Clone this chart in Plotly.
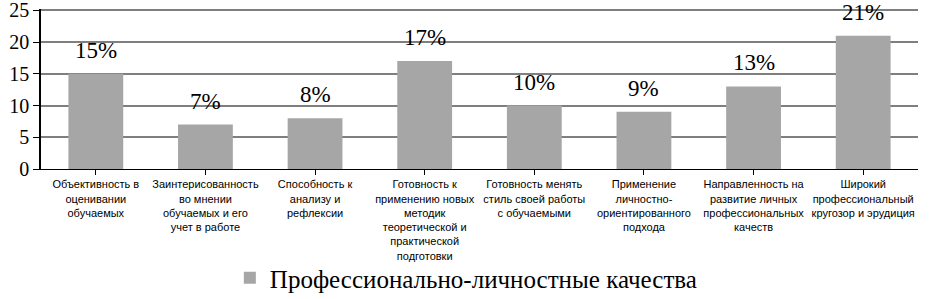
import plotly.graph_objects as go

categories = [
    "Объективность в<br>оценивании<br>обучаемых",
    "Заинтерисованность<br>во мнении<br>обучаемых и его<br>учет в работе",
    "Способность к<br>анализу и<br>рефлексии",
    "Готовность к<br>применению новых<br>методик<br>теоретической и<br>практической<br>подготовки",
    "Готовность менять<br>стиль своей работы<br>с обучаемыми",
    "Применение<br>личностно-<br>ориентированного<br>подхода",
    "Направленность на<br>развитие личных<br>профессиональных<br>качеств",
    "Широкий<br>профессиональный<br>кругозор и эрудиция",
]
values = [15, 7, 8, 17, 10, 9, 13, 21]
value_labels = ["15%", "7%", "8%", "17%", "10%", "9%", "13%", "21%"]
series_name = "Профессионально-личностные качества"
y_ticks = [0, 5, 10, 15, 20, 25]

SERIF = "'Liberation Serif', 'Times New Roman', 'DejaVu Serif', serif"
SANS = "'Liberation Sans', Arial, sans-serif"

fig = go.Figure()
fig.add_trace(go.Bar(
    x=list(range(len(categories))),
    y=values,
    name=series_name,
    marker=dict(color="#A6A6A6", line=dict(width=0)),
    showlegend=True,
))

for i, (v, lab) in enumerate(zip(values, value_labels)):
    fig.add_annotation(
        x=i, y=v, text=lab, showarrow=False,
        yanchor="bottom", yshift=9,
        font=dict(family=SERIF, size=23, color="#000000"),
    )

fig.update_layout(
    width=929, height=299,
    margin=dict(l=41, r=11, t=9, b=130, autoexpand=False),
    paper_bgcolor="white", plot_bgcolor="white",
    bargap=0.5,
    showlegend=True,
    legend=dict(
        orientation="h", x=0.485, xanchor="center",
        yref="container", y=0.07, yanchor="middle",
        bgcolor="rgba(0,0,0,0)",
        font=dict(family=SERIF, size=25, color="#000000"),
        itemwidth=30,
    ),
    xaxis=dict(
        tickmode="array",
        tickvals=list(range(len(categories))),
        ticktext=categories,
        range=[-0.5, len(categories) - 0.5],
        tickson="boundaries",
        ticks="outside", ticklen=5, tickcolor="#000000",
        showline=True, linecolor="#000000", linewidth=1,
        showgrid=False,
        automargin=False,
        tickfont=dict(family=SANS, size=11, color="#000000"),
        tickangle=0,
    ),
    yaxis=dict(
        range=[0, 25.2],
        autorange=False,
        tickmode="array",
        tickvals=y_ticks,
        ticktext=[str(t) for t in y_ticks],
        ticklabeloverflow="allow",
        ticks="outside", ticklen=6, tickcolor="#000000",
        showline=True, linecolor="#000000", linewidth=1.5,
        showgrid=True, gridcolor="#7F7F7F", gridwidth=1.5,
        zeroline=False,
        automargin=False,
        tickfont=dict(family=SERIF, size=20, color="#000000"),
    ),
)

fig.write_html(
    "out.html",
    config={"displayModeBar": False},
    post_script="document.body.style.margin='0';document.body.style.padding='0';",
)
